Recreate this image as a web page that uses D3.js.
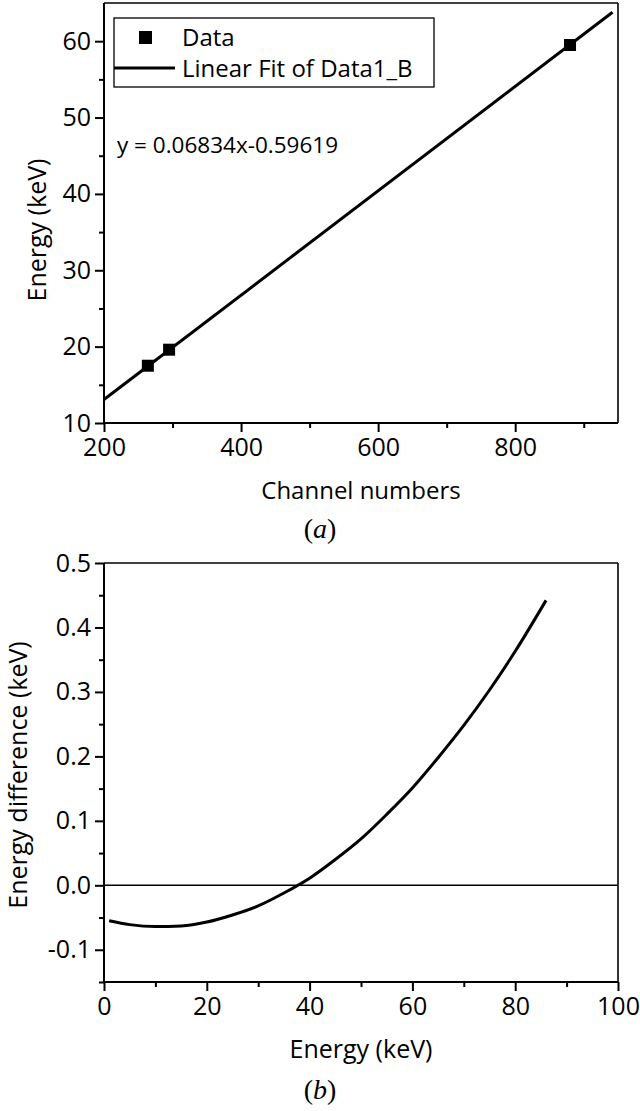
<!DOCTYPE html>
<html>
<head>
<meta charset="utf-8">
<script src="https://cdn.jsdelivr.net/npm/d3@7"></script>
<style>
  html, body { margin: 0; padding: 0; background: #fff; }
  svg { display: block; font-family: "Open Sans", sans-serif; }
</style>
</head>
<body>
<svg id="chart" width="640" height="1111"></svg>
<script>
// (a) calibration points: channel -> energy, plus the linear fit shown in the label
const channels = [264, 295, 880];
const energies = [17.5, 19.6, 59.5];
const fitSlope = 0.06834;
const fitIntercept = -0.59619;
const fitChannelRange = [200, 942];

// (b) energy difference of the fit
const diffEnergy = [1, 5, 10, 15, 20, 25, 30, 35, 40, 45, 50, 55, 60, 65, 70, 75, 80, 86];
const diffValue  = [-0.055, -0.061, -0.064, -0.063, -0.057, -0.046, -0.032, -0.012, 0.011, 0.040,
                    0.072, 0.110, 0.151, 0.198, 0.248, 0.303, 0.363, 0.442];

const topYTicks = [10, 20, 30, 40, 50, 60];
const topYMinor = [15, 25, 35, 45, 55];
const topXTicks = [200, 400, 600, 800];
const topXMinor = [300, 500, 700, 900];
const botYTicks = [-0.1, 0, 0.1, 0.2, 0.3, 0.4, 0.5];
const botYMinor = [-0.15, -0.05, 0.05, 0.15, 0.25, 0.35, 0.45];
const botXTicks = [0, 20, 40, 60, 80, 100];
const botXMinor = [10, 30, 50, 70, 90];

const svg = d3.select('#chart');
const L = 104, R = 618;

// draws frame + ticks for one panel, returns the group
function panel(x, y, o) {
  const g = svg.append('g');
  const [y0, y1] = y.range();   // bottom, top
  const axis = (gen, vals, size, fmt, tr) => {
    const a = g.append('g').attr('transform', tr)
      .call(gen.tickValues(vals).tickSize(size).tickPadding(4).tickFormat(fmt));
    // let the ticks inherit the page font instead of d3's 10px sans-serif
    a.attr('font-family', null).attr('font-size', null);
    a.select('.domain').remove();
    a.selectAll('line').attr('stroke', '#000').attr('stroke-width', 2);
    a.selectAll('text').style('font-size', '25px').attr('fill', '#000');
    return a;
  };
  axis(d3.axisLeft(y), o.yTicks, 9, o.yFmt, `translate(${L},0)`);
  axis(d3.axisLeft(y), o.yMinor, 5, () => '', `translate(${L},0)`);
  axis(d3.axisBottom(x), o.xTicks, 9, d3.format('d'), `translate(0,${y0})`)
    .selectAll('text').attr('y', 15);
  axis(d3.axisBottom(x), o.xMinor, 5, () => '', `translate(0,${y0})`);

  // frame: heavier left/bottom, lighter top/right
  g.append('line').attr('x1', L).attr('x2', R).attr('y1', y1).attr('y2', y1)
    .attr('stroke', '#000').attr('stroke-width', 1.6);
  g.append('line').attr('x1', R).attr('x2', R).attr('y1', y1).attr('y2', y0)
    .attr('stroke', '#000').attr('stroke-width', 1.6);
  g.append('line').attr('x1', L).attr('x2', R).attr('y1', y0).attr('y2', y0)
    .attr('stroke', '#000').attr('stroke-width', 2);
  g.append('line').attr('x1', L).attr('x2', L).attr('y1', y1).attr('y2', y0)
    .attr('stroke', '#000').attr('stroke-width', 2);
  return g;
}

function caption(x, y, letter) {
  const t = svg.append('text').attr('x', x).attr('y', y).attr('text-anchor', 'middle')
    .style('font-family', '"Liberation Serif", serif').style('font-size', '28px');
  t.append('tspan').text('(');
  t.append('tspan').style('font-style', 'italic').text(letter);
  t.append('tspan').text(')');
}

// ---------- (a) ----------
const xa = d3.scaleLinear([200, 950], [L, R]);
const ya = d3.scaleLinear([10, 65], [423, 3]);
const ga = panel(xa, ya, {
  yTicks: topYTicks, yMinor: topYMinor, xTicks: topXTicks, xMinor: topXMinor,
  yFmt: d3.format('d')
});

ga.append('line')
  .attr('x1', xa(fitChannelRange[0])).attr('y1', ya(fitSlope * fitChannelRange[0] + fitIntercept))
  .attr('x2', xa(fitChannelRange[1])).attr('y2', ya(fitSlope * fitChannelRange[1] + fitIntercept))
  .attr('stroke', '#000').attr('stroke-width', 3);

const sq = 12;
ga.selectAll('rect.pt').data(channels).enter().append('rect').attr('class', 'pt')
  .attr('x', d => xa(d) - sq / 2).attr('y', (d, i) => ya(energies[i]) - sq / 2)
  .attr('width', sq).attr('height', sq).attr('fill', '#000');

// legend
const lg = svg.append('g');
lg.append('rect').attr('x', 114).attr('y', 18).attr('width', 320).attr('height', 69)
  .attr('fill', '#fff').attr('stroke', '#000').attr('stroke-width', 1.3);
lg.append('rect').attr('x', 139).attr('y', 31).attr('width', 13).attr('height', 13).attr('fill', '#000');
lg.append('text').attr('x', 182).attr('y', 46).style('font-size', '24px').text('Data');
lg.append('line').attr('x1', 114).attr('x2', 175).attr('y1', 68).attr('y2', 68)
  .attr('stroke', '#000').attr('stroke-width', 3);
lg.append('text').attr('x', 182).attr('y', 77).style('font-size', '24px').text('Linear Fit of Data1_B');

svg.append('text').attr('x', 117).attr('y', 153).style('font-size', '22.5px')
  .text(`y = ${fitSlope}x${fitIntercept}`);

svg.append('text').attr('transform', 'translate(46,230) rotate(-90)').attr('text-anchor', 'middle')
  .style('font-size', '25px').text('Energy (keV)');
svg.append('text').attr('x', 361).attr('y', 499).attr('text-anchor', 'middle')
  .style('font-size', '24px').text('Channel numbers');
caption(320, 538, 'a');

// ---------- (b) ----------
const xb = d3.scaleLinear([0, 100], [L, R]);
const yb = d3.scaleLinear([-0.15, 0.5], [982, 563]);
const gb = panel(xb, yb, {
  yTicks: botYTicks, yMinor: botYMinor, xTicks: botXTicks, xMinor: botXMinor,
  yFmt: d => d.toFixed(1)
});

gb.append('line').attr('x1', L).attr('x2', R).attr('y1', yb(0)).attr('y2', yb(0))
  .attr('stroke', '#000').attr('stroke-width', 1.6);

gb.append('path')
  .datum(diffEnergy.map((e, i) => [e, diffValue[i]]))
  .attr('d', d3.line().x(d => xb(d[0])).y(d => yb(d[1])).curve(d3.curveMonotoneX))
  .attr('fill', 'none').attr('stroke', '#000').attr('stroke-width', 3);

svg.append('text').attr('transform', 'translate(27,775) rotate(-90)').attr('text-anchor', 'middle')
  .style('font-size', '25px').text('Energy difference (keV)');
svg.append('text').attr('x', 361).attr('y', 1058).attr('text-anchor', 'middle')
  .style('font-size', '25px').text('Energy (keV)');
caption(320, 1099, 'b');
</script>
</body>
</html>
